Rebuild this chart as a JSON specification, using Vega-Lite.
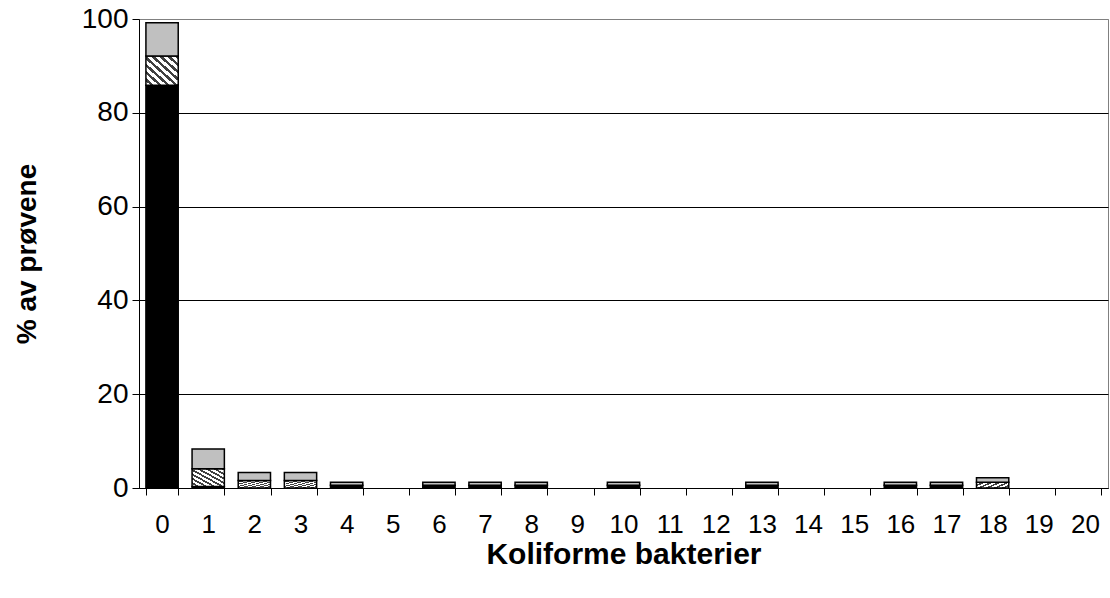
{
  "$schema": "https://vega.github.io/schema/vega-lite/v6.json",
  "width": 969,
  "height": 469,
  "autosize": "none",
  "padding": {"left": 139, "top": 19, "right": 2, "bottom": 110},
  "background": "white",
  "config": {
    "view": {"stroke": "#808080", "strokeWidth": 1},
    "font": "Liberation Sans"
  },
  "data": {
    "values": [
      {"bakterier": 0, "kategori": "A", "ord": 1, "prosent": 85.9},
      {"bakterier": 0, "kategori": "B", "ord": 2, "prosent": 6.2},
      {"bakterier": 0, "kategori": "C", "ord": 3, "prosent": 7.1},
      {"bakterier": 1, "kategori": "A", "ord": 1, "prosent": 0.3},
      {"bakterier": 1, "kategori": "B", "ord": 2, "prosent": 3.8},
      {"bakterier": 1, "kategori": "C", "ord": 3, "prosent": 4.2},
      {"bakterier": 2, "kategori": "B", "ord": 2, "prosent": 1.6},
      {"bakterier": 2, "kategori": "C", "ord": 3, "prosent": 1.7},
      {"bakterier": 3, "kategori": "B", "ord": 2, "prosent": 1.6},
      {"bakterier": 3, "kategori": "C", "ord": 3, "prosent": 1.7},
      {"bakterier": 4, "kategori": "A", "ord": 1, "prosent": 0.6},
      {"bakterier": 4, "kategori": "C", "ord": 3, "prosent": 0.6},
      {"bakterier": 6, "kategori": "A", "ord": 1, "prosent": 0.6},
      {"bakterier": 6, "kategori": "C", "ord": 3, "prosent": 0.6},
      {"bakterier": 7, "kategori": "A", "ord": 1, "prosent": 0.6},
      {"bakterier": 7, "kategori": "C", "ord": 3, "prosent": 0.6},
      {"bakterier": 8, "kategori": "A", "ord": 1, "prosent": 0.6},
      {"bakterier": 8, "kategori": "C", "ord": 3, "prosent": 0.6},
      {"bakterier": 10, "kategori": "A", "ord": 1, "prosent": 0.6},
      {"bakterier": 10, "kategori": "C", "ord": 3, "prosent": 0.6},
      {"bakterier": 13, "kategori": "A", "ord": 1, "prosent": 0.6},
      {"bakterier": 13, "kategori": "C", "ord": 3, "prosent": 0.6},
      {"bakterier": 16, "kategori": "A", "ord": 1, "prosent": 0.6},
      {"bakterier": 16, "kategori": "C", "ord": 3, "prosent": 0.6},
      {"bakterier": 17, "kategori": "A", "ord": 1, "prosent": 0.6},
      {"bakterier": 17, "kategori": "C", "ord": 3, "prosent": 0.6},
      {"bakterier": 18, "kategori": "B", "ord": 2, "prosent": 1.2},
      {"bakterier": 18, "kategori": "C", "ord": 3, "prosent": 1.0}
    ]
  },
  "mark": {"type": "bar", "stroke": "black", "strokeWidth": 1.5, "fillOpacity": 1},
  "encoding": {
    "x": {
      "field": "bakterier",
      "type": "ordinal",
      "scale": {"domain": [0,1,2,3,4,5,6,7,8,9,10,11,12,13,14,15,16,17,18,19,20], "paddingInner": 0.3, "paddingOuter": 0.15},
      "axis": {
        "title": "Koliforme bakterier",
        "titleFontSize": 30,
        "titleFontWeight": "bold",
        "titleColor": "black",
        "titlePadding": 2,
        "labelAngle": 0,
        "labelFontSize": 26,
        "labelColor": "black",
        "labelPadding": 16,
        "tickBand": "extent",
        "tickSize": 7,
        "tickColor": "black",
        "domainColor": "black",
        "grid": false
      }
    },
    "y": {
      "field": "prosent",
      "type": "quantitative",
      "stack": "zero",
      "scale": {"domain": [0, 100], "nice": false},
      "axis": {
        "title": "% av prøvene",
        "titleFontSize": 28,
        "titleFontWeight": "bold",
        "titleColor": "black",
        "titlePadding": 40,
        "values": [0, 20, 40, 60, 80, 100],
        "labelFontSize": 28,
        "labelColor": "black",
        "labelPadding": 4,
        "tickSize": 7,
        "tickColor": "black",
        "domainColor": "black",
        "grid": true,
        "gridColor": {"condition": {"test": "datum.value === 100", "value": "#808080"}, "value": "black"},
        "gridOpacity": 1,
        "gridWidth": 1
      }
    },
    "detail": {"field": "kategori", "type": "nominal"},
    "order": {"field": "ord", "type": "quantitative"},
    "fill": {
      "condition": [
        {"test": "datum.kategori === 'A'", "value": "black"},
        {"test": "datum.kategori === 'C'", "value": "#c0c0c0"}
      ],
      "value": {
        "gradient": "linear",
        "x1": 0, "y1": 1, "x2": 1, "y2": 0,
        "stops": [
          {"offset": 0, "color": "white"}, {"offset": 0.06875, "color": "white"}, {"offset": 0.06875, "color": "#404040"}, {"offset": 0.125, "color": "#404040"},
          {"offset": 0.125, "color": "white"}, {"offset": 0.19375, "color": "white"}, {"offset": 0.19375, "color": "#404040"}, {"offset": 0.25, "color": "#404040"},
          {"offset": 0.25, "color": "white"}, {"offset": 0.31875, "color": "white"}, {"offset": 0.31875, "color": "#404040"}, {"offset": 0.375, "color": "#404040"},
          {"offset": 0.375, "color": "white"}, {"offset": 0.44375, "color": "white"}, {"offset": 0.44375, "color": "#404040"}, {"offset": 0.5, "color": "#404040"},
          {"offset": 0.5, "color": "white"}, {"offset": 0.56875, "color": "white"}, {"offset": 0.56875, "color": "#404040"}, {"offset": 0.625, "color": "#404040"},
          {"offset": 0.625, "color": "white"}, {"offset": 0.69375, "color": "white"}, {"offset": 0.69375, "color": "#404040"}, {"offset": 0.75, "color": "#404040"},
          {"offset": 0.75, "color": "white"}, {"offset": 0.81875, "color": "white"}, {"offset": 0.81875, "color": "#404040"}, {"offset": 0.875, "color": "#404040"},
          {"offset": 0.875, "color": "white"}, {"offset": 0.94375, "color": "white"}, {"offset": 0.94375, "color": "#404040"}, {"offset": 1, "color": "#404040"}
        ]
      }
    }
  }
}
